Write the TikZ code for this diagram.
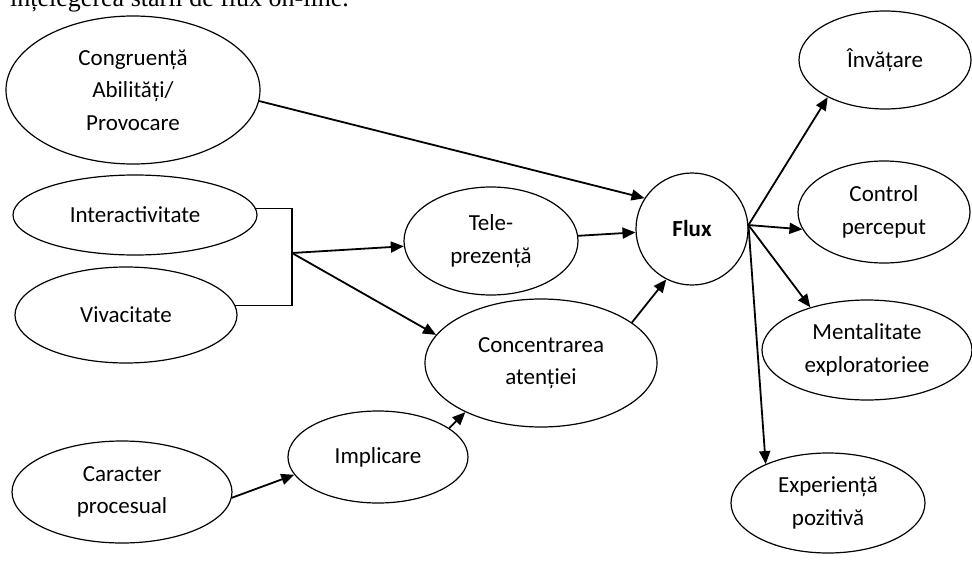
\documentclass[tikz,border=0pt]{standalone}
\usepackage{fontspec}
\setmainfont{Carlito}
\newfontfamily\serifbody{Liberation Serif}
\usetikzlibrary{shapes.geometric,arrows.meta}

\begin{document}
\begin{tikzpicture}[x=1pt,y=-1pt,
  bubble/.style={draw, ellipse, line width=1.2pt, inner sep=0pt, align=center,
    font=\fontsize{23}{32.5}\selectfont},
  link/.style={line width=1.8pt, -{Triangle[length=13pt,width=11pt]}},
  bracketline/.style={line width=1.2pt}]
\useasboundingbox (0,0) rectangle (972,562);
\clip (0,0) rectangle (972,562);

% running text of the page above the figure
\node[anchor=base west, inner sep=0pt, font=\serifbody\fontsize{26}{30}\selectfont]
  (caption) at (10,6) {înțelegerea stării de flux on-line.};

% antecedents
\node[bubble, minimum width=254pt, minimum height=148pt] (cong) at (133,90) {Congruență\\Abilități/\\Provocare};
\node[bubble, minimum width=244pt, minimum height=80pt] (inter) at (135,215) {Interactivitate};
\node[bubble, minimum width=222pt, minimum height=96pt] (viva) at (126,315) {Vivacitate};
\node[bubble, minimum width=220pt, minimum height=102pt] (car) at (122,492) {Caracter\\procesual};

% mediators
\node[bubble, minimum width=174pt, minimum height=108pt] (tele) at (491,241) {Tele-\\prezență};
\node[bubble, minimum width=232pt, minimum height=128pt] (conc) at (541,363) {Concentrarea\\atenției};
\node[bubble, minimum width=180pt, minimum height=92pt] (imp) at (378,457) {Implicare};

% flow state
\node[draw, circle, line width=1.2pt, minimum size=112pt, inner sep=0pt,
  font=\bfseries\fontsize{23}{28}\selectfont] (flux) at (692,229) {Flux};

% consequences
\node[bubble, minimum width=172pt, minimum height=98pt] (inv) at (885,60) {Învățare};
\node[bubble, minimum width=172pt, minimum height=102pt] (ctrl) at (884,212) {Control\\perceput};
\node[bubble, minimum width=210pt, minimum height=100pt] (ment) at (867,350) {Mentalitate\\exploratoriee};
\node[bubble, minimum width=194pt, minimum height=100pt] (exper) at (828,503) {Experiență\\pozitivă};

% bracket joining interactivity and vividness
\coordinate (brk) at (292,253);
\draw[bracketline] (inter.3) -| (brk) |- (viva.5);
\draw[link] (brk) -- (tele);
\draw[link] (brk) -- (conc.165);

% links into flow
\draw[link] (cong.-5) -- (flux.147);
\draw[link] (tele) -- (flux);
\draw[link] (conc.24) -- (flux.243);
\draw[link] (imp.22) -- (conc.213);
\draw[link] (car.-3) -- (imp.192);

% links out of flow
\coordinate (fout) at (flux.4);
\draw[link] (fout) -- (inv.213);
\draw[link] (fout) -- (ctrl.192);
\draw[link] (fout) -- (ment.143);
\draw[link] (fout) -- (exper.148);
\end{tikzpicture}
\end{document}
